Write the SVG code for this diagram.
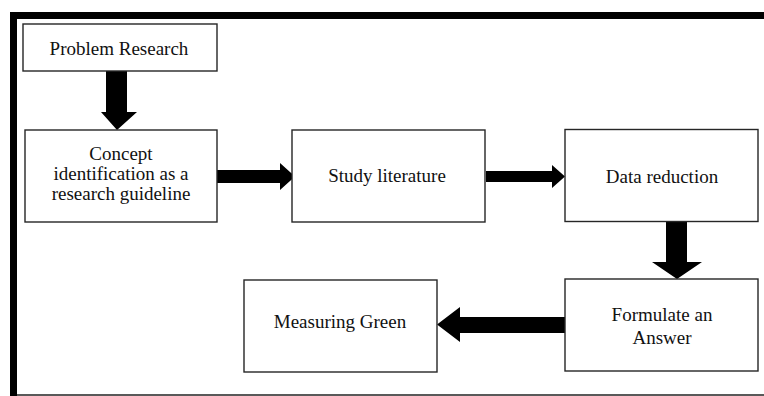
<svg xmlns="http://www.w3.org/2000/svg" width="764" height="396" viewBox="0 0 764 396">
<style>
.box{fill:#fff;stroke:#262626;stroke-width:1.4}
.t{font-family:"Liberation Serif","Times New Roman",serif;font-size:19px;fill:#111;text-anchor:middle}
.arr{fill:#000}
</style>
<rect width="764" height="396" fill="#fff"/>
<g id="frame">
<rect x="10" y="12" width="754" height="7" fill="#000"/>
<rect x="10" y="12" width="7" height="384" fill="#000"/>
<line x1="17" y1="395" x2="764" y2="395" stroke="#222" stroke-width="1.5"/>
</g>
<g id="connectors">
<polygon class="arr" points="106,71 127,71 127,112 137,112 117,130 101,112 106,112"/>
<polygon class="arr" points="217,170 280,170 280,163 295,176.5 280,190 280,183 217,183"/>
<polygon class="arr" points="486,171 552,171 552,165 565,176.5 552,188 552,182 486,182"/>
<polygon class="arr" points="666,222 687,222 687,262 702,262 677,279 652,262 666,262"/>
<polygon class="arr" points="565,317 460,317 460,307 437,324.5 460,342 460,333 565,333"/>
</g>
<g id="n1"><rect class="box" x="23" y="24" width="194" height="47"/><text class="t" x="119" y="55">Problem Research</text></g>
<g id="n2"><rect class="box" x="25" y="130" width="192" height="92"/>
<text class="t" x="121" y="160">Concept</text>
<text class="t" x="121" y="179.5">identification as a</text>
<text class="t" x="121" y="199.5">research guideline</text></g>
<g id="n3"><rect class="box" x="292" y="130" width="193" height="92"/><text class="t" x="387" y="182">Study literature</text></g>
<g id="n4"><rect class="box" x="565" y="129.5" width="193" height="92"/><text class="t" x="662" y="182.5">Data reduction</text></g>
<g id="n5"><rect class="box" x="565" y="279" width="193" height="92"/>
<text class="t" x="662" y="321">Formulate an</text>
<text class="t" x="662" y="343.5">Answer</text></g>
<g id="n6"><rect class="box" x="244" y="280" width="193" height="92"/><text class="t" x="340" y="327.5">Measuring Green</text></g>
</svg>
